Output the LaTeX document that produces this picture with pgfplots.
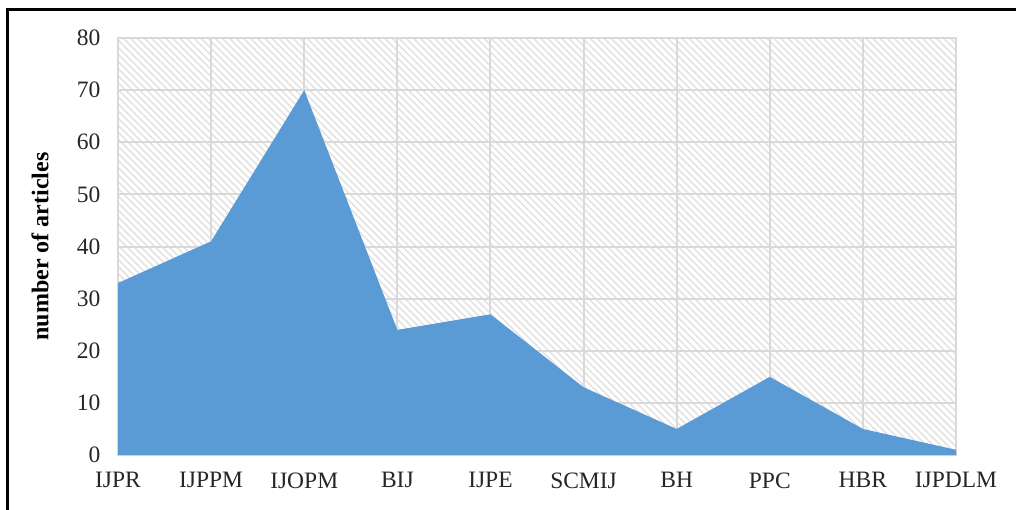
\documentclass[border=0pt]{standalone}
\usepackage{fontspec}
\setmainfont{Liberation Serif}
\usepackage{pgfplots}
\pgfplotsset{compat=1.18}
\usetikzlibrary{patterns.meta}
\definecolor{areablue}{HTML}{5B9BD5}
\definecolor{gridgray}{HTML}{D9D9D9}
\begin{document}
\begin{tikzpicture}
\begin{axis}[
  at={(118pt,-455pt)}, anchor=south west,
  scale only axis, width=838pt, height=417pt,
  xmin=0, xmax=9, ymin=0, ymax=80,
  xtick={0,...,9},
  xticklabels={IJPR,IJPPM,IJOPM,BIJ,IJPE,SCMIJ,BH,PPC,HBR,IJPDLM},
  ytick={0,10,...,80},
  major tick length=0pt,
  grid=major,
  major grid style={draw=gridgray, line width=2pt},
  axis line style={draw=gridgray, line width=2pt},
  axis background/.style={pattern={Lines[angle=-45,distance=5pt,line width=1.6pt]}, pattern color=gray!22},
  /pgf/number format/assume math mode=true,
  tick label style={font=\fontsize{23.5pt}{28pt}\selectfont, text=black!85},
  yticklabel style={xshift=-14pt},
  xticklabel style={yshift=-14pt},
  ylabel={\textbf{number of articles}},
  every axis y label/.style={at={(axis description cs:0,0.5)}, xshift=-78pt, rotate=90, anchor=center, font=\fontsize{24pt}{28pt}\selectfont},
]
\addplot[fill=areablue, draw=none] coordinates {
  (0,33) (1,41) (2,70) (3,24) (4,27) (5,13) (6,5) (7,15) (8,5) (9,1)
} \closedcycle;
\end{axis}
\draw[line width=3pt, black] (7pt,-530pt) -- (7pt,-9pt) -- (1030pt,-9pt);
\pgfresetboundingbox
\useasboundingbox (0,0) rectangle (1016pt,-509pt);
\end{tikzpicture}
\end{document}
